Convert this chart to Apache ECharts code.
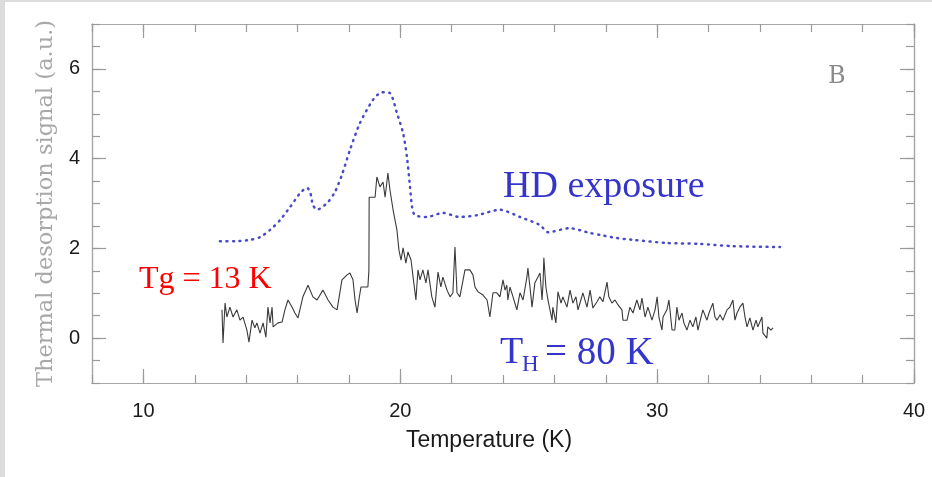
<!DOCTYPE html>
<html>
<head>
<meta charset="utf-8">
<script src="https://cdn.jsdelivr.net/npm/echarts@6/dist/echarts.min.js"></script>
<style>
  html, body { margin: 0; padding: 0; background: #ffffff; }
  #chart { width: 932px; height: 477px; }
</style>
</head>
<body>
<div id="chart"></div>
<script>
// Thermal desorption after HD exposure (Tg = 13 K, TH = 80 K)

// x-axis tick labels and y-axis tick labels
const xTickLabels = [10, 20, 30, 40];
const yTickLabels = [0, 2, 4, 6];

// HD exposure trace (dotted)
const hdTemperature = [12.98, 13.57, 14.15, 14.54, 14.93, 15.32, 15.71, 16.10, 16.37, 16.49, 16.60, 16.76, 17.15, 17.46, 17.73, 18.04, 18.43, 18.94, 19.29, 19.60, 19.87, 20.11, 20.26, 20.38, 20.46, 20.57, 21.04, 21.66, 22.32, 22.99, 23.88, 24.66, 25.44, 25.75, 26.60, 27.40, 27.77, 28.43, 29.06, 30.38, 31.67, 32.95, 34.78];
const hdSignal = [2.16, 2.16, 2.19, 2.25, 2.41, 2.63, 2.92, 3.23, 3.35, 3.26, 2.97, 2.86, 3.01, 3.26, 3.64, 4.19, 4.79, 5.31, 5.48, 5.46, 5.02, 4.57, 4.04, 3.37, 2.92, 2.74, 2.70, 2.79, 2.70, 2.74, 2.86, 2.70, 2.52, 2.36, 2.45, 2.34, 2.30, 2.23, 2.19, 2.12, 2.10, 2.05, 2.03];

// TH = 80 K trace (solid, noisy)
const thTemperature = [13.06, 13.10, 13.18, 13.25, 13.37, 13.49, 13.64, 13.76, 13.88, 14.03, 14.11, 14.23, 14.34, 14.42, 14.54, 14.66, 14.77, 14.85, 14.93, 15.01, 15.05, 15.24, 15.40, 15.51, 15.63, 15.79, 15.90, 16.02, 16.21, 16.41, 16.60, 16.76, 16.99, 17.19, 17.38, 17.54, 17.73, 17.93, 18.04, 18.16, 18.24, 18.32, 18.39, 18.47, 18.63, 18.74, 18.78, 18.79, 19.02, 19.09, 19.21, 19.33, 19.41, 19.52, 19.60, 19.72, 19.87, 19.95, 20.03, 20.11, 20.22, 20.30, 20.42, 20.50, 20.61, 20.69, 20.77, 20.88, 21.00, 21.08, 21.23, 21.35, 21.47, 21.58, 21.66, 21.82, 21.94, 22.05, 22.13, 22.17, 22.21, 22.32, 22.52, 22.71, 22.83, 22.91, 23.03, 23.22, 23.38, 23.49, 23.61, 23.76, 23.88, 24.00, 24.08, 24.15, 24.19, 24.27, 24.39, 24.54, 24.66, 24.78, 24.93, 24.97, 25.05, 25.13, 25.24, 25.36, 25.44, 25.52, 25.56, 25.59, 25.67, 25.75, 25.91, 25.94, 26.06, 26.14, 26.26, 26.33, 26.49, 26.61, 26.72, 26.84, 26.92, 27.03, 27.11, 27.27, 27.39, 27.50, 27.66, 27.77, 27.89, 28.05, 28.12, 28.24, 28.36, 28.48, 28.63, 28.67, 28.83, 28.94, 29.06, 29.21, 29.33, 29.41, 29.53, 29.64, 29.80, 29.92, 30.00, 30.07, 30.19, 30.23, 30.38, 30.46, 30.58, 30.69, 30.77, 30.85, 30.97, 31.04, 31.16, 31.28, 31.39, 31.51, 31.59, 31.71, 31.78, 31.94, 32.02, 32.17, 32.25, 32.33, 32.45, 32.56, 32.72, 32.83, 32.95, 33.03, 33.11, 33.22, 33.34, 33.42, 33.50, 33.61, 33.73, 33.85, 33.92, 34.08, 34.12, 34.27, 34.31, 34.43, 34.51];
const thSignal = [0.63, -0.11, 0.78, 0.47, 0.69, 0.47, 0.63, 0.40, 0.47, 0.18, -0.09, 0.40, 0.23, 0.34, 0.11, 0.34, 0.02, 0.69, 0.34, 0.69, 0.25, 0.34, 0.36, 0.63, 0.85, 0.69, 0.56, 0.45, 0.92, 1.18, 0.92, 0.85, 1.07, 0.85, 0.69, 0.63, 1.30, 1.41, 1.45, 1.30, 0.85, 0.56, 0.85, 1.14, 1.14, 1.14, 1.52, 3.14, 3.14, 3.59, 3.37, 3.48, 3.14, 3.68, 3.30, 2.86, 2.41, 1.96, 1.74, 2.01, 1.67, 1.92, 1.74, 1.36, 0.85, 1.52, 1.30, 1.52, 1.23, 1.52, 0.92, 0.69, 1.47, 1.14, 1.36, 1.07, 0.92, 1.01, 2.03, 1.52, 1.01, 0.92, 1.52, 1.52, 1.41, 1.14, 1.03, 0.96, 0.85, 0.47, 1.01, 1.01, 0.92, 1.30, 1.07, 1.18, 0.85, 1.14, 0.92, 0.63, 1.01, 0.85, 1.36, 1.56, 1.14, 0.69, 1.23, 1.36, 1.45, 0.85, 1.23, 1.79, 1.14, 0.85, 0.40, 0.69, 0.34, 1.03, 0.78, 0.92, 0.69, 1.07, 0.78, 0.92, 0.63, 0.85, 1.01, 0.69, 1.07, 0.67, 0.81, 0.92, 0.81, 1.25, 0.92, 0.78, 0.85, 0.74, 0.63, 0.40, 0.40, 0.69, 0.56, 0.85, 0.63, 0.89, 0.47, 0.69, 0.40, 0.63, 0.92, 0.47, 0.18, 0.47, 0.63, 0.85, 0.18, 0.18, 0.69, 0.40, 0.56, 0.34, 0.18, 0.40, 0.25, 0.47, 0.18, 0.47, 0.63, 0.40, 0.56, 0.78, 0.47, 0.40, 0.52, 0.40, 0.63, 0.69, 0.85, 0.40, 0.56, 0.69, 0.78, 0.47, 0.25, 0.45, 0.18, 0.40, 0.25, 0.47, 0.11, 0.00, 0.25, 0.18, 0.23];

const zip = (xs, ys) => xs.map((x, i) => [x, ys[i]]);

const X_MIN = 8, X_MAX = 40, Y_MIN = -1, Y_MAX = 7;
const frameColor = '#a6a6a6';
const tickColor = '#9a9a9a';
const SHORT = 8, LONG = 14;

function xAxisDef(position, major, withLabels) {
  return {
    type: 'value', position, min: X_MIN, max: X_MAX, interval: 2,
    axisLine: { show: true, onZero: false, lineStyle: { color: frameColor, width: 1.2 } },
    axisTick: major
      ? { show: true, inside: true, length: LONG, customValues: xTickLabels, lineStyle: { color: tickColor, width: 1.2 } }
      : { show: true, inside: true, length: SHORT, lineStyle: { color: tickColor, width: 1.2 } },
    axisLabel: withLabels
      ? { show: true, customValues: xTickLabels, margin: 18, color: '#1a1a1a', fontSize: 20, fontFamily: 'Liberation Sans, Arial, sans-serif' }
      : { show: false },
    splitLine: { show: false }
  };
}

function yAxisDef(position, major, withLabels) {
  return {
    type: 'value', position, min: Y_MIN, max: Y_MAX, interval: 0.5,
    axisLine: { show: true, onZero: false, lineStyle: { color: frameColor, width: 1.2 } },
    axisTick: major
      ? { show: true, inside: true, length: LONG, customValues: yTickLabels, lineStyle: { color: tickColor, width: 1.2 } }
      : { show: true, inside: true, length: SHORT, lineStyle: { color: tickColor, width: 1.2 } },
    axisLabel: withLabels
      ? { show: true, customValues: yTickLabels, margin: 12, color: '#1a1a1a', fontSize: 20, fontFamily: 'Liberation Sans, Arial, sans-serif' }
      : { show: false },
    splitLine: { show: false }
  };
}

const xBottomMajor = xAxisDef('bottom', true, true);
xBottomMajor.name = 'Temperature (K)';
xBottomMajor.nameLocation = 'middle';
xBottomMajor.nameGap = 46;
xBottomMajor.nameTextStyle = { color: '#1a1a1a', fontSize: 23, fontFamily: 'Liberation Sans, Arial, sans-serif', padding: [0, 28, 0, 0] };

const yLeftMajor = yAxisDef('left', true, true);
yLeftMajor.name = 'Thermal desorption signal (a.u.)';
yLeftMajor.nameLocation = 'middle';
yLeftMajor.nameGap = 34;
yLeftMajor.nameTextStyle = { color: '#a8a8a8', fontSize: 22.5, fontFamily: 'DejaVu Serif, serif' };

const chart = echarts.init(document.getElementById('chart'), null, { renderer: 'canvas' });

const serif = '"Liberation Serif", "Times New Roman", serif';

chart.setOption({
  backgroundColor: '#ffffff',
  animation: false,
  grid: { left: 92, top: 24, right: 18, bottom: 94, containLabel: false },
  xAxis: [
    xAxisDef('bottom', false, false),
    xBottomMajor,
    xAxisDef('top', false, false),
    xAxisDef('top', true, false)
  ],
  yAxis: [
    yAxisDef('left', false, false),
    yLeftMajor,
    yAxisDef('right', false, false),
    yAxisDef('right', true, false)
  ],
  series: [
    {
      name: 'HD exposure',
      type: 'line',
      xAxisIndex: 0, yAxisIndex: 0,
      data: zip(hdTemperature, hdSignal),
      showSymbol: false,
      smooth: 0.25,
      lineStyle: { color: '#4a4ac6', width: 2.5, type: [1, 5.5], cap: 'round' },
      z: 3
    },
    {
      name: 'TH = 80 K',
      type: 'line',
      xAxisIndex: 0, yAxisIndex: 0,
      data: zip(thTemperature, thSignal),
      showSymbol: false,
      lineStyle: { color: '#3a3a3a', width: 1.1 },
      z: 4
    }
  ],
  graphic: [
    { type: 'rect', left: 0, top: 0, shape: { width: 932, height: 2 }, style: { fill: '#dcdcdc' }, silent: true },
    { type: 'rect', left: 0, top: 0, shape: { width: 5, height: 477 }, style: { fill: '#dcdcdc' }, silent: true },
    { type: 'text', x: 828, y: 65, style: { text: 'B', fill: '#8a8a8a', font: '24px "DejaVu Serif", serif' } },
    { type: 'text', x: 503, y: 168, style: { text: 'HD exposure', fill: '#3535cc', font: '38px ' + serif } },
    { type: 'text', x: 139, y: 264, style: { text: 'Tg = 13 K', fill: '#ff0000', font: '32px ' + serif } },
    { type: 'text', x: 500, y: 334, style: { text: 'T', fill: '#3535cc', font: '38px ' + serif } },
    { type: 'text', x: 522, y: 353, style: { text: 'H', fill: '#3535cc', font: '23px ' + serif } },
    { type: 'text', x: 545, y: 334, style: { text: '= 80 K', fill: '#3535cc', font: '39px ' + serif } }
  ]
});
</script>
</body>
</html>
